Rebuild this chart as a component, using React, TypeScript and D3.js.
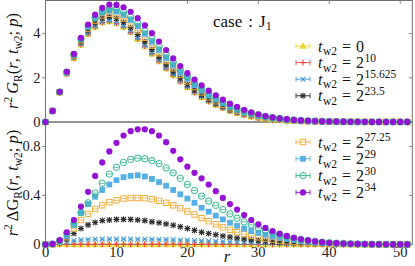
import React from "react";
import * as d3 from "d3";

const R_VALUES = [0, 1, 2, 3, 4, 5, 6, 7, 8, 9, 10, 11, 12, 13, 14, 15, 16, 17, 18, 19, 20, 21, 22, 23, 24, 25, 26, 27, 28, 29, 30, 31, 32, 33, 34, 35, 36, 37, 38, 39, 40, 41, 42, 43, 44, 45, 46, 47, 48, 49, 50, 51];

// top panel: r^2 G_R(r, tw2; p)
const G_TW0 = [0, 0.5, 1.33, 2.17, 2.88, 3.5, 3.98, 4.3, 4.5, 4.55, 4.47, 4.3, 4.06, 3.76, 3.43, 3.09, 2.75, 2.42, 2.11, 1.83, 1.57, 1.33, 1.12, 0.93, 0.77, 0.63, 0.5, 0.4, 0.31, 0.24, 0.18, 0.135, 0.1, 0.075, 0.055, 0.04, 0.03, 0.022, 0.016, 0.012, 0.009, 0.007, 0.005, 0.004, 0.003, 0.002, 0.002, 0.001, 0.001, 0.001, 0.001, 0.001];
const G_TW10 = [0, 0.5, 1.33, 2.17, 2.88, 3.5, 3.98, 4.3, 4.5, 4.55, 4.47, 4.3, 4.06, 3.76, 3.43, 3.09, 2.75, 2.42, 2.11, 1.83, 1.57, 1.33, 1.12, 0.93, 0.77, 0.63, 0.5, 0.4, 0.31, 0.24, 0.18, 0.136, 0.101, 0.076, 0.056, 0.041, 0.031, 0.023, 0.017, 0.013, 0.01, 0.007, 0.005, 0.004, 0.003, 0.002, 0.002, 0.001, 0.001, 0.001, 0.001, 0.001];
const G_TW15625 = [0, 0.5, 1.34, 2.19, 2.91, 3.54, 4.02, 4.34, 4.54, 4.59, 4.51, 4.34, 4.1, 3.8, 3.47, 3.13, 2.79, 2.46, 2.15, 1.87, 1.6, 1.36, 1.15, 0.96, 0.8, 0.65, 0.52, 0.42, 0.33, 0.26, 0.2, 0.15, 0.11, 0.085, 0.064, 0.048, 0.037, 0.028, 0.021, 0.016, 0.012, 0.01, 0.007, 0.006, 0.004, 0.003, 0.003, 0.002, 0.002, 0.002, 0.002, 0.002];
const G_TW235 = [0, 0.5, 1.35, 2.22, 2.97, 3.63, 4.14, 4.48, 4.7, 4.75, 4.68, 4.51, 4.27, 3.96, 3.63, 3.28, 2.93, 2.59, 2.27, 1.98, 1.7, 1.45, 1.22, 1.02, 0.85, 0.7, 0.56, 0.45, 0.36, 0.28, 0.21, 0.16, 0.12, 0.093, 0.07, 0.052, 0.04, 0.03, 0.022, 0.017, 0.013, 0.01, 0.007, 0.006, 0.004, 0.003, 0.003, 0.002, 0.002, 0.002, 0.002, 0.002];
const G_TW2725 = [0, 0.5, 1.35, 2.23, 3.01, 3.7, 4.23, 4.59, 4.82, 4.9, 4.83, 4.68, 4.44, 4.14, 3.81, 3.46, 3.11, 2.76, 2.43, 2.13, 1.84, 1.58, 1.34, 1.12, 0.94, 0.77, 0.62, 0.5, 0.4, 0.31, 0.24, 0.18, 0.14, 0.11, 0.081, 0.061, 0.047, 0.035, 0.026, 0.02, 0.015, 0.012, 0.009, 0.007, 0.005, 0.004, 0.003, 0.002, 0.002, 0.002, 0.002, 0.002];
const G_TW29 = [0, 0.5, 1.36, 2.24, 3.04, 3.76, 4.31, 4.69, 4.95, 5.04, 5.0, 4.85, 4.62, 4.33, 3.99, 3.63, 3.26, 2.9, 2.56, 2.24, 1.95, 1.67, 1.42, 1.2, 1.01, 0.84, 0.68, 0.55, 0.44, 0.35, 0.27, 0.21, 0.17, 0.13, 0.1, 0.076, 0.058, 0.044, 0.033, 0.025, 0.019, 0.015, 0.011, 0.008, 0.006, 0.004, 0.004, 0.002, 0.002, 0.002, 0.002, 0.002];
const G_TW30 = [0, 0.5, 1.36, 2.26, 3.05, 3.76, 4.32, 4.72, 5.0, 5.13, 5.1, 4.97, 4.76, 4.47, 4.13, 3.78, 3.41, 3.05, 2.7, 2.37, 2.06, 1.77, 1.52, 1.29, 1.09, 0.92, 0.75, 0.62, 0.5, 0.4, 0.32, 0.25, 0.2, 0.16, 0.12, 0.092, 0.072, 0.055, 0.042, 0.032, 0.024, 0.018, 0.013, 0.01, 0.007, 0.005, 0.004, 0.003, 0.002, 0.002, 0.002, 0.002];
const G_TW34 = [0, 0.5, 1.37, 2.27, 3.08, 3.81, 4.41, 4.86, 5.17, 5.31, 5.3, 5.19, 4.99, 4.7, 4.37, 4.02, 3.64, 3.26, 2.88, 2.53, 2.21, 1.92, 1.66, 1.42, 1.21, 1.01, 0.83, 0.69, 0.55, 0.44, 0.35, 0.27, 0.21, 0.16, 0.13, 0.095, 0.073, 0.055, 0.041, 0.031, 0.023, 0.018, 0.013, 0.01, 0.008, 0.006, 0.005, 0.003, 0.003, 0.002, 0.002, 0.002];

// bottom panel: r^2 Delta G_R(r, tw2; p)
const DG_TW0 = [0, 0, 0, 0, 0, 0, 0, 0, 0, 0, 0, 0, 0, 0, 0, 0, 0, 0, 0, 0, 0, 0, 0, 0, 0, 0, 0, 0, 0, 0, 0, 0, 0, 0, 0, 0, 0, 0, 0, 0, 0, 0, 0, 0, 0, 0, 0, 0, 0, 0, 0, 0];
const DG_TW10 = [0, 0.001, 0.002, 0.003, 0.003, 0.003, 0.003, 0.003, 0.003, 0.003, 0.003, 0.003, 0.003, 0.003, 0.003, 0.003, 0.003, 0.003, 0.003, 0.003, 0.003, 0.002, 0.002, 0.002, 0.002, 0.002, 0.002, 0.002, 0.002, 0.002, 0.002, 0.001, 0.001, 0.001, 0.001, 0.001, 0.001, 0.001, 0.001, 0.001, 0.001, 0, 0, 0, 0, 0, 0, 0, 0, 0, 0, 0];
const DG_TW15625 = [0, 0.002, 0.01, 0.022, 0.032, 0.038, 0.041, 0.043, 0.044, 0.044, 0.044, 0.044, 0.044, 0.043, 0.043, 0.042, 0.041, 0.04, 0.038, 0.037, 0.035, 0.033, 0.031, 0.029, 0.027, 0.025, 0.023, 0.021, 0.019, 0.017, 0.015, 0.013, 0.012, 0.01, 0.009, 0.008, 0.007, 0.006, 0.005, 0.004, 0.003, 0.003, 0.002, 0.002, 0.001, 0.001, 0.001, 0.001, 0.001, 0.001, 0.001, 0.001];
const DG_TW235 = [0, 0.002, 0.015, 0.045, 0.09, 0.13, 0.16, 0.18, 0.195, 0.2, 0.205, 0.205, 0.205, 0.2, 0.195, 0.185, 0.178, 0.168, 0.157, 0.145, 0.13, 0.115, 0.1, 0.09, 0.08, 0.07, 0.061, 0.053, 0.045, 0.038, 0.032, 0.027, 0.022, 0.018, 0.015, 0.012, 0.01, 0.008, 0.006, 0.005, 0.004, 0.003, 0.002, 0.002, 0.001, 0.001, 0.001, 0.001, 0.001, 0.001, 0.001, 0.001];
const DG_TW2725 = [0, 0.002, 0.02, 0.06, 0.13, 0.2, 0.25, 0.29, 0.32, 0.345, 0.36, 0.375, 0.38, 0.38, 0.378, 0.37, 0.357, 0.34, 0.32, 0.297, 0.27, 0.245, 0.215, 0.19, 0.165, 0.14, 0.12, 0.1, 0.085, 0.07, 0.058, 0.048, 0.04, 0.032, 0.026, 0.021, 0.017, 0.013, 0.01, 0.008, 0.006, 0.005, 0.004, 0.003, 0.002, 0.002, 0.001, 0.001, 0.001, 0.001, 0.001, 0.001];
const DG_TW29 = [0, 0.003, 0.025, 0.07, 0.16, 0.26, 0.33, 0.39, 0.445, 0.49, 0.525, 0.55, 0.56, 0.565, 0.555, 0.535, 0.51, 0.48, 0.445, 0.41, 0.375, 0.34, 0.3, 0.268, 0.236, 0.205, 0.178, 0.153, 0.13, 0.11, 0.094, 0.079, 0.066, 0.055, 0.045, 0.036, 0.028, 0.022, 0.017, 0.013, 0.01, 0.008, 0.006, 0.004, 0.003, 0.002, 0.002, 0.001, 0.001, 0.001, 0.001, 0.001];
const DG_TW30 = [0, 0.004, 0.03, 0.09, 0.17, 0.26, 0.34, 0.42, 0.5, 0.575, 0.63, 0.67, 0.695, 0.705, 0.7, 0.685, 0.66, 0.625, 0.585, 0.54, 0.49, 0.44, 0.395, 0.355, 0.32, 0.285, 0.25, 0.215, 0.185, 0.16, 0.135, 0.115, 0.095, 0.08, 0.065, 0.052, 0.042, 0.033, 0.026, 0.02, 0.015, 0.011, 0.008, 0.006, 0.004, 0.003, 0.002, 0.002, 0.001, 0.001, 0.001, 0.001];
const DG_TW34 = [0, 0.005, 0.035, 0.1, 0.2, 0.31, 0.43, 0.56, 0.67, 0.76, 0.83, 0.89, 0.925, 0.94, 0.94, 0.925, 0.89, 0.835, 0.765, 0.695, 0.635, 0.585, 0.54, 0.49, 0.435, 0.38, 0.33, 0.285, 0.24, 0.2, 0.165, 0.135, 0.11, 0.088, 0.07, 0.055, 0.043, 0.033, 0.025, 0.019, 0.014, 0.011, 0.008, 0.006, 0.005, 0.004, 0.003, 0.002, 0.002, 0.001, 0.001, 0.001];

const LEGEND_BASE = ["0", "2", "2", "2", "2", "2", "2", "2"];
const LEGEND_EXP = ["", "10", "15.625", "23.5", "27.25", "29", "30", "34"];

const TOP_Y_TICKS = [0, 2, 4];
const TOP_Y_LABELS = ["0", "2", "4"];
const BOT_Y_TICKS = [0, 0.4, 0.8];
const BOT_Y_LABELS = ["0", "0.4", "0.8"];
const X_TICKS = [0, 10, 20, 30, 40, 50];
const X_LABELS = ["0", "10", "20", "30", "40", "50"];

const TOP_SERIES = [G_TW0, G_TW10, G_TW15625, G_TW235, G_TW2725, G_TW29, G_TW30, G_TW34];
const BOT_SERIES = [DG_TW0, DG_TW10, DG_TW15625, DG_TW235, DG_TW2725, DG_TW29, DG_TW30, DG_TW34];

const STYLES = [
  { color: "#ecd531", marker: "tri" },
  { color: "#e8453f", marker: "plus" },
  { color: "#3d9ad8", marker: "x" },
  { color: "#2a2a2a", marker: "star" },
  { color: "#f0ae3c", marker: "osq" },
  { color: "#56b0e6", marker: "sq" },
  { color: "#2fb68c", marker: "oc" },
  { color: "#9412d6", marker: "c" },
];

const FONT = "'Liberation Serif', 'DejaVu Serif', serif";

const W = 415;
const H = 266;
const LEFT = 45.5;
const RIGHT = 412.3;
const TOP = 0.5;
const MID = 122;
const BOTTOM = 244.5;

const x = d3.scaleLinear().domain([0, 51.7]).range([LEFT, RIGHT]);
const yTop = d3.scaleLinear().domain([0, 5.5]).range([MID, TOP]);
const yBot = d3.scaleLinear().domain([0, 1.0]).range([BOTTOM, MID]);

const triPath = d3.symbol().type(d3.symbolTriangle).size(20)() as string;

function Marker({ kind, cx, cy, color, err }: { kind: string; cx: number; cy: number; color: string; err: number }) {
  const e = (
    <line x1={cx - err} x2={cx + err} y1={cy} y2={cy} stroke={color} strokeWidth={0.8} />
  );
  switch (kind) {
    case "tri":
      return (
        <g>
          {e}
          <path d={triPath} transform={`translate(${cx},${cy + 0.5})`} fill={color} stroke={color} strokeWidth={0.4} />
        </g>
      );
    case "plus":
      return (
        <g stroke={color} strokeWidth={1.1}>
          {e}
          <line x1={cx - 3} x2={cx + 3} y1={cy} y2={cy} />
          <line x1={cx} x2={cx} y1={cy - 3} y2={cy + 3} />
        </g>
      );
    case "x":
      return (
        <g stroke={color} strokeWidth={1.1}>
          {e}
          <line x1={cx - 2.4} x2={cx + 2.4} y1={cy - 2.4} y2={cy + 2.4} />
          <line x1={cx - 2.4} x2={cx + 2.4} y1={cy + 2.4} y2={cy - 2.4} />
        </g>
      );
    case "star":
      return (
        <g stroke={color} strokeWidth={1.1}>
          {e}
          <line x1={cx - 2.4} x2={cx + 2.4} y1={cy - 2.4} y2={cy + 2.4} />
          <line x1={cx - 2.4} x2={cx + 2.4} y1={cy + 2.4} y2={cy - 2.4} />
          <line x1={cx} x2={cx} y1={cy - 3} y2={cy + 3} />
          <line x1={cx - 3} x2={cx + 3} y1={cy} y2={cy} />
        </g>
      );
    case "osq":
      return (
        <g>
          {e}
          <rect x={cx - 2.7} y={cy - 2.7} width={5.4} height={5.4} fill="none" stroke={color} strokeWidth={1} />
        </g>
      );
    case "sq":
      return (
        <g>
          {e}
          <rect x={cx - 2.9} y={cy - 2.9} width={5.8} height={5.8} fill={color} />
        </g>
      );
    case "oc":
      return (
        <g>
          {e}
          <circle cx={cx} cy={cy} r={3.2} fill="none" stroke={color} strokeWidth={1} />
        </g>
      );
    default:
      return (
        <g>
          {e}
          <circle cx={cx} cy={cy} r={3.1} fill={color} />
        </g>
      );
  }
}

function LegendEntry({ i, cx, cy }: { i: number; cx: number; cy: number }) {
  const s = STYLES[i];
  return (
    <g>
      <line x1={cx - 7} x2={cx + 7} y1={cy} y2={cy} stroke={s.color} strokeWidth={0.9} />
      <line x1={cx - 7} x2={cx - 7} y1={cy - 2.5} y2={cy + 2.5} stroke={s.color} strokeWidth={0.9} />
      <line x1={cx + 7} x2={cx + 7} y1={cy - 2.5} y2={cy + 2.5} stroke={s.color} strokeWidth={0.9} />
      <Marker kind={s.marker} cx={cx} cy={cy} color={s.color} err={0} />
      <text x={cx + 15} y={cy + 5.5} fontFamily={FONT} fontSize={16} fill="#111">
        <tspan fontStyle="italic">t</tspan>
        <tspan fontSize={11.5} dy={3.5} dx={0.5}>w2</tspan>
        <tspan dy={-3.5} dx={5}>=</tspan>
        <tspan dx={5}>{LEGEND_BASE[i]}</tspan>
        {LEGEND_EXP[i] !== "" && (
          <tspan fontSize={11.5} dy={-6.5} dx={0.5}>{LEGEND_EXP[i]}</tspan>
        )}
      </text>
    </g>
  );
}

export default function App() {
  const frame = "#707070";
  const tickLabelFont = 14.5;
  return (
    <svg
      width={W}
      height={H}
      viewBox={`0 0 ${W} ${H}`}
      style={{ position: "absolute", left: 0, top: 0, background: "#fff" }}
    >
      <rect x={0} y={0} width={W} height={H} fill="#fff" />

      {/* frames */}
      <rect x={LEFT} y={TOP} width={RIGHT - LEFT} height={MID - TOP} fill="none" stroke={frame} strokeWidth={1} />
      <rect x={LEFT} y={MID} width={RIGHT - LEFT} height={BOTTOM - MID} fill="none" stroke={frame} strokeWidth={1} />

      {/* top panel ticks */}
      {TOP_Y_TICKS.map((t, k) => (
        <g key={"ty" + k}>
          <line x1={LEFT - 3.5} x2={LEFT} y1={yTop(t)} y2={yTop(t)} stroke={frame} strokeWidth={0.8} />
          <line x1={RIGHT - 3.5} x2={RIGHT} y1={yTop(t)} y2={yTop(t)} stroke={frame} strokeWidth={0.8} />
          <text x={LEFT - 5} y={yTop(t) + 4.8} textAnchor="end" fontFamily={FONT} fontSize={tickLabelFont} fill="#222">
            {TOP_Y_LABELS[k]}
          </text>
        </g>
      ))}
      {X_TICKS.map((t, k) => (
        <g key={"tx" + k}>
          <line x1={x(t)} x2={x(t)} y1={TOP} y2={TOP + 3.5} stroke={frame} strokeWidth={0.8} />
          <line x1={x(t)} x2={x(t)} y1={BOTTOM - 3.5} y2={BOTTOM} stroke={frame} strokeWidth={0.8} />
          <text x={x(t)} y={256.5} textAnchor="middle" fontFamily={FONT} fontSize={tickLabelFont} fill="#222">
            {X_LABELS[k]}
          </text>
        </g>
      ))}
      {BOT_Y_TICKS.map((t, k) => (
        <g key={"by" + k}>
          <line x1={LEFT - 3.5} x2={LEFT} y1={yBot(t)} y2={yBot(t)} stroke={frame} strokeWidth={0.8} />
          <line x1={RIGHT - 3.5} x2={RIGHT} y1={yBot(t)} y2={yBot(t)} stroke={frame} strokeWidth={0.8} />
          <text x={LEFT - 5} y={yBot(t) + 4.8} textAnchor="end" fontFamily={FONT} fontSize={tickLabelFont} fill="#222">
            {BOT_Y_LABELS[k]}
          </text>
        </g>
      ))}

      {/* top panel data */}
      {TOP_SERIES.map((vals, si) => (
        <g key={"ts" + si}>
          {vals.map((v, j) => (
            <Marker key={j} kind={STYLES[si].marker} cx={x(R_VALUES[j])} cy={yTop(v)} color={STYLES[si].color} err={2.6} />
          ))}
        </g>
      ))}

      {/* bottom panel data */}
      {BOT_SERIES.map((vals, si) => (
        <g key={"bs" + si}>
          {vals.map((v, j) => (
            <Marker key={j} kind={STYLES[si].marker} cx={x(R_VALUES[j])} cy={yBot(v)} color={STYLES[si].color} err={2.6} />
          ))}
        </g>
      ))}

      {/* case label */}
      <text x={213} y={27} fontFamily={FONT} fontSize={17} fill="#111">
        <tspan>case</tspan>
        <tspan dx={6}>:</tspan>
        <tspan dx={6}>J</tspan>
        <tspan fontSize={12} dy={3}>1</tspan>
      </text>

      {/* legends */}
      {[0, 1, 2, 3].map((i, k) => (
        <LegendEntry key={"lt" + i} i={i} cx={303} cy={46 + k * 16.6} />
      ))}
      {[4, 5, 6, 7].map((i, k) => (
        <LegendEntry key={"lb" + i} i={i} cx={303} cy={142 + k * 16.8} />
      ))}

      {/* y labels */}
      <text transform="translate(18,61) rotate(-90)" textAnchor="middle" fontFamily={FONT} fontSize={16.5} fill="#111">
        <tspan fontStyle="italic">r</tspan>
        <tspan fontSize={11.5} dy={-6.5}>2</tspan>
        <tspan fontStyle="italic" dy={6.5} dx={3}>G</tspan>
        <tspan fontSize={11.5} dy={3.5}>R</tspan>
        <tspan dy={-3.5}>(</tspan>
        <tspan fontStyle="italic">r</tspan>
        <tspan>, </tspan>
        <tspan fontStyle="italic">t</tspan>
        <tspan fontSize={11.5} dy={3.5}>w2</tspan>
        <tspan dy={-3.5}>; </tspan>
        <tspan fontStyle="italic">p</tspan>
        <tspan>)</tspan>
      </text>
      <text transform="translate(18,183) rotate(-90)" textAnchor="middle" fontFamily={FONT} fontSize={16.5} fill="#111">
        <tspan fontStyle="italic">r</tspan>
        <tspan fontSize={11.5} dy={-6.5}>2</tspan>
        <tspan dy={6.5} dx={3}>ΔG</tspan>
        <tspan fontSize={11.5} dy={3.5}>R</tspan>
        <tspan dy={-3.5}>(</tspan>
        <tspan fontStyle="italic">r</tspan>
        <tspan>, </tspan>
        <tspan fontStyle="italic">t</tspan>
        <tspan fontSize={11.5} dy={3.5}>w2</tspan>
        <tspan dy={-3.5}>; </tspan>
        <tspan fontStyle="italic">p</tspan>
        <tspan>)</tspan>
      </text>

      {/* x label */}
      <text x={227} y={262} textAnchor="middle" fontFamily={FONT} fontSize={16.5} fontStyle="italic" fill="#111">
        r
      </text>
    </svg>
  );
}
